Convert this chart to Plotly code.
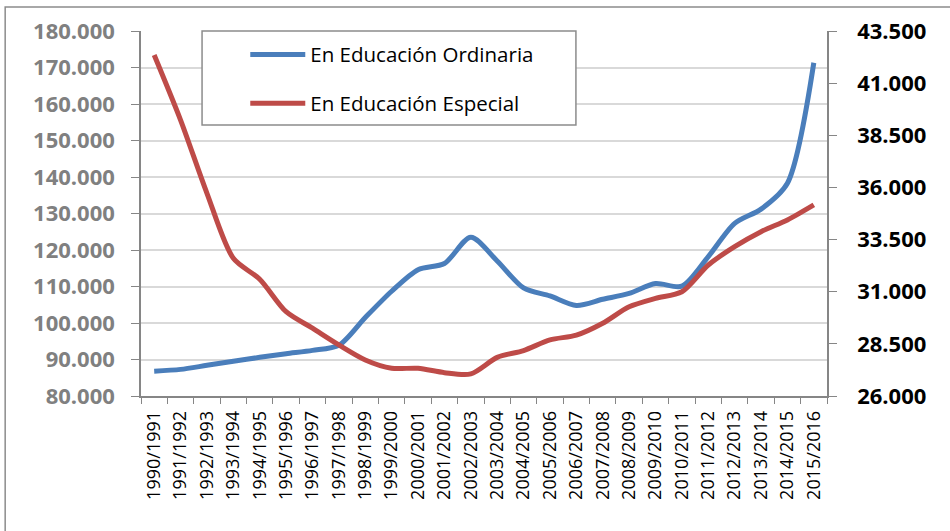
import plotly.graph_objects as go

# cursos escolares
cursos = ["1990/1991", "1991/1992", "1992/1993", "1993/1994", "1994/1995",
          "1995/1996", "1996/1997", "1997/1998", "1998/1999", "1999/2000",
          "2000/2001", "2001/2002", "2002/2003", "2003/2004", "2004/2005",
          "2005/2006", "2006/2007", "2007/2008", "2008/2009", "2009/2010",
          "2010/2011", "2011/2012", "2012/2013", "2013/2014", "2014/2015",
          "2015/2016"]

# alumnado en educacion ordinaria (eje izquierdo)
ordinaria = [86800, 87300, 88400, 89500, 90600, 91600, 92500, 93900, 101500,
             108700, 114600, 116300, 123500, 117000, 109600, 107400, 104800,
             106500, 108100, 110800, 110100, 118200, 127300, 131200, 138300,
             171300]

# alumnado en educacion especial (eje derecho)
especial = [42350, 39230, 35720, 32600, 31600, 30040, 29250, 28450, 27730,
            27330, 27330, 27120, 27060, 27850, 28180, 28690, 28920, 29490,
            30280, 30680, 31000, 32280, 33160, 33880, 34440, 35160]

left_ticks = list(range(80000, 180001, 10000))
right_ticks = list(range(26000, 43501, 2500))

AZUL = "#4a7ebb"
ROJO = "#be4b48"
FONT = "Open Sans"

fig = go.Figure()
fig.add_trace(go.Scatter(x=cursos, y=ordinaria, name="En Educación Ordinaria",
                         mode="lines", line=dict(color=AZUL, width=5, shape="spline", smoothing=0.8),
                         legendgroup="a"))
fig.add_trace(go.Scatter(x=cursos, y=especial, name="En Educación Especial",
                         mode="lines", line=dict(color=ROJO, width=5, shape="spline", smoothing=0.8),
                         yaxis="y2", legendgroup="b"))

fig.update_layout(
    width=950, height=531,
    margin=dict(l=141, r=123, t=31, b=135),
    paper_bgcolor="white", plot_bgcolor="white",
    separators=",.",
    font=dict(family=FONT, color="black"),
    showlegend=True,
    legend=dict(x=0.152, y=0.99, xanchor="left", yanchor="top",
                bgcolor="rgba(0,0,0,0)", borderwidth=0,
                font=dict(size=20.5, color="black"),
                itemwidth=55, tracegroupgap=19),
    xaxis=dict(type="category", range=[-0.5, 25.5], showgrid=False,
               showline=True, linecolor="#868686", linewidth=1.5,
               ticks="outside", tickson="boundaries", ticklen=6,
               tickcolor="#868686", tickangle=-90,
               tickfont=dict(size=18, color="black"), ticklabelstandoff=6),
    yaxis=dict(range=[80000, 180000], tickvals=left_ticks, tickformat=",d",
               showgrid=True, gridcolor="#d9d9d9", gridwidth=1.5,
               showline=True, linecolor="#868686", linewidth=1.5,
               ticks="outside", ticklen=8, tickcolor="#868686",
               tickfont=dict(size=22, color="#808080", family=FONT, weight="bold"),
               ticklabelstandoff=12, zeroline=False),
    yaxis2=dict(range=[26000, 43500], tickvals=right_ticks, tickformat=",d",
                overlaying="y", side="right", showgrid=False,
                showline=True, linecolor="#868686", linewidth=1.5,
                ticks="outside", ticklen=8, tickcolor="#868686",
                tickfont=dict(size=22, color="black", family=FONT, weight="bold"),
                ticklabelstandoff=16, zeroline=False),
    shapes=[
        # marco exterior
        dict(type="rect", xref="paper", yref="paper", x0=-0.198, x1=1.5, y0=-1, y1=1.066,
             line=dict(color="#8c8c8c", width=1.5), fillcolor="rgba(0,0,0,0)", layer="below"),
        # caja de la leyenda
        dict(type="rect", xref="paper", yref="paper", x0=0.089, x1=0.634, y0=0.7425, y1=1.0,
             line=dict(color="#8c8c8c", width=1.5), fillcolor="white", layer="above"),
    ],
)

# sin margen del body para que el grafico empiece en la esquina
fig.write_html("out.html", config={"displayModeBar": False},
               post_script="document.body.style.margin='0';")
